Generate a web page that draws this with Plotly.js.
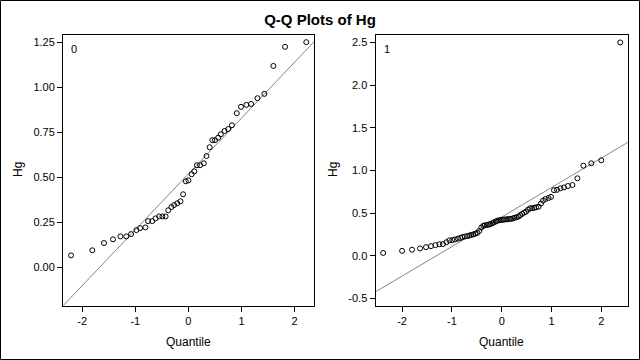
<!DOCTYPE html>
<html>
<head>
<meta charset="utf-8">
<script src="https://cdn.plot.ly/plotly-3.0.1.min.js"></script>
<style>html,body{margin:0;padding:0;background:#fff;}#chart{width:640px;height:360px;}</style>
</head>
<body>
<div id="chart"></div>
<script>
// Group 0: theoretical normal quantiles and sorted Hg values
const qqX0 = [-2.21,-1.81,-1.59,-1.42,-1.28,-1.17,-1.08,-0.98,-0.91,-0.81,-0.76,-0.68,-0.62,-0.55,-0.49,-0.43,-0.38,-0.32,-0.27,-0.21,-0.15,-0.10,-0.05,0.00,0.06,0.11,0.16,0.22,0.29,0.34,0.40,0.45,0.50,0.56,0.61,0.68,0.75,0.82,0.91,0.99,1.09,1.18,1.30,1.43,1.60,1.82,2.22];
const qqY0 = [0.068,0.096,0.136,0.157,0.173,0.173,0.186,0.208,0.219,0.223,0.258,0.258,0.273,0.284,0.284,0.284,0.318,0.336,0.347,0.357,0.368,0.407,0.479,0.484,0.518,0.534,0.568,0.568,0.579,0.619,0.668,0.707,0.707,0.721,0.740,0.758,0.769,0.790,0.857,0.892,0.903,0.908,0.940,0.964,1.119,1.225,1.251];
// Group 1
const qqX1 = [-2.38,-2.00,-1.80,-1.64,-1.52,-1.42,-1.33,-1.25,-1.18,-1.11,-1.05,-0.99,-0.94,-0.88,-0.83,-0.79,-0.74,-0.69,-0.65,-0.61,-0.57,-0.53,-0.49,-0.45,-0.41,-0.37,-0.34,-0.30,-0.26,-0.23,-0.19,-0.16,-0.12,-0.09,-0.05,-0.02,0.02,0.05,0.09,0.12,0.16,0.19,0.23,0.26,0.30,0.34,0.37,0.41,0.45,0.49,0.53,0.57,0.61,0.65,0.69,0.74,0.79,0.83,0.88,0.94,0.99,1.05,1.11,1.18,1.25,1.33,1.42,1.52,1.64,1.80,2.00,2.38];
const qqY1 = [0.032,0.057,0.070,0.085,0.100,0.112,0.124,0.134,0.136,0.158,
              0.180,0.184,0.190,0.200,0.208,0.218,0.225,0.230,0.236,0.244,
              0.250,0.258,0.268,0.290,0.330,0.350,0.355,0.360,0.365,0.370,
              0.380,0.390,0.400,0.410,0.415,0.418,
              0.420,0.424,0.426,0.428,0.430,0.432,0.438,0.445,0.450,0.460,
              0.475,0.490,0.505,0.516,0.540,0.556,0.556,0.562,0.567,0.574,
              0.612,0.645,0.665,0.676,0.690,0.768,0.772,0.790,0.800,0.817,
              0.829,0.907,1.055,1.083,1.118,2.500];
// Reference line parameters (mean, std)
const mu0 = 0.52, sigma0 = 0.31;
const mu1 = 0.453, sigma1 = 0.346;
const lineX = [-3, 3];
// Tick labels and texts
const xTickVals = [-2,-1,0,1,2];
const xTickText = ['-2','-1','0','1','2'];
const yTickVals0 = [0,0.25,0.5,0.75,1.0,1.25];
const yTickText0 = ['0.00','0.25','0.50','0.75','1.00','1.25'];
const yTickVals1 = [-0.5,0,0.5,1.0,1.5,2.0,2.5];
const yTickText1 = ['-0.5','0.0','0.5','1.0','1.5','2.0','2.5'];
const groupLabels = ['0','1'];
const xTitle = 'Quantile';
const yTitle = 'Hg';

const FONT = '"Liberation Sans", Arial, sans-serif';
const lineColor = '#858585';

const traces = [
  {x: lineX, y: lineX.map(v => mu0 + sigma0 * v), xaxis: 'x', yaxis: 'y', mode: 'lines',
   line: {color: lineColor, width: 1}, hoverinfo: 'skip'},
  {x: qqX0, y: qqY0, xaxis: 'x', yaxis: 'y', mode: 'markers',
   marker: {symbol: 'circle-open', size: 5, color: '#000', line: {width: 1, color: '#000'}}},
  {x: lineX, y: lineX.map(v => mu1 + sigma1 * v), xaxis: 'x2', yaxis: 'y2', mode: 'lines',
   line: {color: lineColor, width: 1}, hoverinfo: 'skip'},
  {x: qqX1, y: qqY1, xaxis: 'x2', yaxis: 'y2', mode: 'markers',
   marker: {symbol: 'circle-open', size: 5, color: '#000', line: {width: 1, color: '#000'}}}
];

const axisCommon = {
  showgrid: false, zeroline: false, showline: true, mirror: true,
  linecolor: '#000', linewidth: 1, ticks: 'outside', ticklen: 5, tickwidth: 1, tickcolor: '#000',
  tickfont: {family: FONT, size: 11, color: '#000'}, fixedrange: true
};

const dom0 = [63/640, 314/640], dom1 = [375.5/640, 627.7/640];
const ydom = [1 - 305.5/360, 1 - 34.5/360];
const txtFont = {family: FONT, size: 12, color: '#000'};

const layout = {
  width: 640, height: 360,
  margin: {l: 0, r: 0, t: 0, b: 0},
  paper_bgcolor: '#fff', plot_bgcolor: '#fff',
  showlegend: false,
  title: {text: '<b>Q-Q Plots of Hg</b>', font: {family: FONT, size: 15, color: '#000'},
          x: 0.5, xanchor: 'center', y: 1 - 20/360, yanchor: 'middle', xref: 'paper', yref: 'paper'},
  xaxis: Object.assign({}, axisCommon, {domain: dom0, range: [-2.362, 2.365],
    tickvals: xTickVals, ticktext: xTickText, anchor: 'y'}),
  yaxis: Object.assign({}, axisCommon, {domain: ydom, range: [-0.2103, 1.2935],
    tickvals: yTickVals0, ticktext: yTickText0, anchor: 'x'}),
  xaxis2: Object.assign({}, axisCommon, {domain: dom1, range: [-2.534, 2.530],
    tickvals: xTickVals, ticktext: xTickText, anchor: 'y2'}),
  yaxis2: Object.assign({}, axisCommon, {domain: ydom, range: [-0.584, 2.593],
    tickvals: yTickVals1, ticktext: yTickText1, anchor: 'x2'}),
  annotations: [
    {text: groupLabels[0], xref: 'x domain', yref: 'y domain', x: 0.025, y: 0.975,
     xanchor: 'left', yanchor: 'top', showarrow: false, font: {family: FONT, size: 11, color: '#000'}},
    {text: groupLabels[1], xref: 'x2 domain', yref: 'y2 domain', x: 0.025, y: 0.975,
     xanchor: 'left', yanchor: 'top', showarrow: false, font: {family: FONT, size: 11, color: '#000'}},
    {text: xTitle, xref: 'paper', yref: 'paper', x: (dom0[0]+dom0[1])/2, y: 1 - 342/360,
     xanchor: 'center', yanchor: 'middle', showarrow: false, font: txtFont},
    {text: xTitle, xref: 'paper', yref: 'paper', x: (dom1[0]+dom1[1])/2, y: 1 - 342/360,
     xanchor: 'center', yanchor: 'middle', showarrow: false, font: txtFont},
    {text: yTitle, xref: 'paper', yref: 'paper', x: 18/640, y: (ydom[0]+ydom[1])/2, textangle: -90,
     xanchor: 'center', yanchor: 'middle', showarrow: false, font: txtFont},
    {text: yTitle, xref: 'paper', yref: 'paper', x: 333/640, y: (ydom[0]+ydom[1])/2, textangle: -90,
     xanchor: 'center', yanchor: 'middle', showarrow: false, font: txtFont}
  ],
  shapes: [
    {type: 'rect', xref: 'paper', yref: 'paper', x0: 0.5/640, x1: 639.5/640, y0: 0.5/360, y1: 359.5/360,
     line: {color: '#000', width: 1}, fillcolor: 'rgba(0,0,0,0)', layer: 'above'}
  ]
};

Plotly.newPlot('chart', traces, layout, {displayModeBar: false, staticPlot: true});
</script>
</body>
</html>
